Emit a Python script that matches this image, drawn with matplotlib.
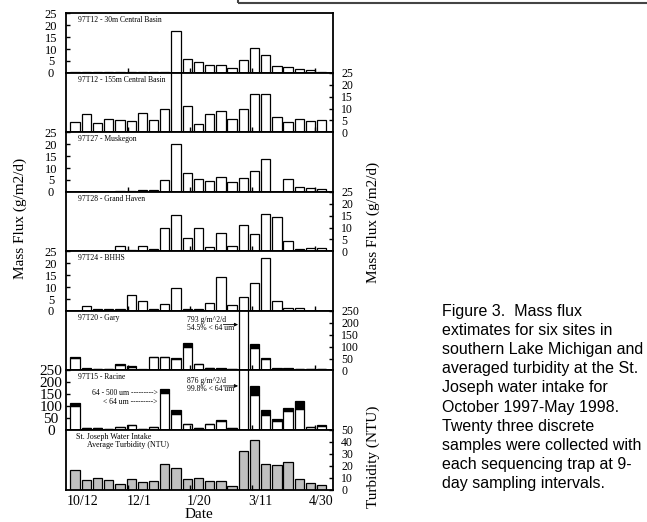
import matplotlib
matplotlib.use("Agg")
import matplotlib.pyplot as plt
from matplotlib.patches import Rectangle
import numpy as np

# ---------------- data (23 nine-day samples, Oct 1997 - May 1998) ----------------
t12_30m = [0.3, 0.5, 0.2, 0.2, 0.2, 0.2, 0.2, 0.2, 0.2, 17.4, 5.8, 4.4, 3.4, 3.2, 1.9,
           5.5, 10.4, 7.4, 3.0, 2.6, 1.4, 1.1, 0.5]
t12_155m = [4.3, 7.9, 4.0, 5.5, 5.1, 4.8, 8.3, 5.1, 9.8, 28.0, 11.2, 3.5, 7.6, 9.1, 5.8,
            9.8, 16.3, 16.0, 6.5, 4.4, 5.8, 4.7, 5.2]
t27_muskegon = [0, 0, 0, 0.1, 0.2, 0.2, 0.8, 0.8, 5.1, 20.0, 7.9, 5.2, 4.4, 6.2, 4.2,
                5.8, 8.6, 13.7, 0, 5.2, 2.0, 1.8, 1.0]
t28_grandhaven = [0, 0, 0, 0.3, 2.1, 0.4, 2.2, 1.1, 9.7, 15.3, 5.6, 9.7, 1.8, 7.6, 2.1,
                  10.9, 7.4, 15.8, 14.4, 4.5, 1.0, 1.5, 1.5]
t24_bhhs = [0, 1.9, 0.6, 0.6, 0.9, 6.7, 4.0, 0.9, 3.1, 9.6, 0.7, 0.6, 3.3, 14.3, 2.6,
            6.0, 11.9, 22.4, 4.3, 1.3, 1.3, 0, 0]
gary_fine = [53, 8, 5, 6, 22, 15, 3, 56, 56, 48, 100, 25, 10, 7, 5, 432, 96, 50, 8, 8, 4, 6, 6]
gary_coarse = [5, 2, 3, 2, 3, 3, 1, 2, 2, 4, 14, 3, 2, 3, 2, 361, 14, 2, 2, 2, 3, 2, 2]
racine_fine = [99, 8, 8, 2, 12, 20, 2, 12, 154, 69, 23, 8, 24, 39, 9, 874, 145, 61, 38, 78, 90, 11, 18]
racine_coarse = [13, 1, 1, 1, 1, 2, 1, 1, 17, 14, 2, 1, 2, 2, 1, 2, 41, 22, 7, 13, 33, 1, 2]
turbidity = [16, 7.6, 9.6, 7.6, 4.5, 8.7, 6.2, 6.8, 21.1, 18.3, 8.5, 9.3, 6.8, 7.3, 2.8,
             32.4, 41.4, 21.1, 20.8, 22.8, 8.7, 5.1, 3.9]

date_labels = ["10/12", "12/1", "1/20", "3/11", "4/30"]
panel_names = ["97T12 - 30m Central Basin", "97T12 - 155m Central Basin", "97T27 - Muskegon",
               "97T28 - Grand Haven", "97T24 - BHHS", "97T20 - Gary", "97T15 - Racine", ""]

caption = ["Figure 3.  Mass flux", "extimates for six sites in", "southern Lake Michigan and",
           "averaged turbidity at the St.", "Joseph water intake for", "October 1997-May 1998.",
           "Twenty three discrete", "samples were collected with", "each sequencing trap at 9-",
           "day sampling intervals."]

# ---------------- layout ----------------
W, H = 647, 522
fig = plt.figure(figsize=(W / 100, H / 100), dpi=100)
SERIF = ["Liberation Serif", "DejaVu Serif"]
SANS = ["Liberation Sans", "DejaVu Sans"]

x = np.arange(len(turbidity))
XL = (-0.856, 23.0)
day_ticks = [4.70, 10.25, 15.78, 21.39]          # 12/1, 1/20, 3/11, 4/30 tick marks
label_pos = [0.71, 5.70, 11.05, 16.49, 21.93]    # where the date labels are printed

top_px, bot_px = 13.3, 489.5
ph = (bot_px - top_px) / 8
left = 65.5 / W
width = (333 - 65.5) / W

panels = []
for k in range(8):
    y0 = top_px + k * ph
    ax = fig.add_axes([left, 1 - (y0 + ph) / H, width, ph / H])
    panels.append(ax)

bw = 0.83
lw_bar = 0.9
ymaxes = [25, 25, 25, 25, 25, 250, 250, 50]
sides = ["left", "right", "left", "right", "left", "right", "left", "right"]
steps = [5, 5, 5, 5, 5, 50, 50, 10]
series = [t12_30m, t12_155m, t27_muskegon, t28_grandhaven, t24_bhhs]

for k, ax in enumerate(panels):
    ax.set_xlim(*XL)
    ax.set_ylim(0, ymaxes[k])
    if k < 5:
        ax.bar(x, series[k], width=bw, color="white", edgecolor="black", linewidth=lw_bar)
    elif k in (5, 6):
        fine = gary_fine if k == 5 else racine_fine
        coarse = gary_coarse if k == 5 else racine_coarse
        ax.bar(x, fine, width=bw, color="white", edgecolor="black", linewidth=lw_bar)
        ax.bar(x, coarse, bottom=fine, width=bw, color="black", edgecolor="black",
               linewidth=lw_bar)
    else:
        ax.bar(x, turbidity, width=bw, color="#c0c0c0", edgecolor="black", linewidth=lw_bar)

    for s in ax.spines.values():
        s.set_linewidth(1.3)

    # x ticks
    ax.set_xticks(day_ticks, minor=True)
    ax.tick_params(axis="x", which="minor", direction="in", length=3.4, width=1.0,
                   bottom=True, top=False)
    if k == 7:
        ax.set_xticks(label_pos)
        ax.set_xticklabels(date_labels, fontsize=10, family=SERIF)
        ax.tick_params(axis="x", which="major", length=0, pad=4)
    else:
        ax.set_xticks([])

    # y ticks
    ticks = np.arange(0, ymaxes[k] + 0.1, steps[k])
    ax.set_yticks(ticks)
    ax.set_yticklabels([f"{int(t)}" for t in ticks], family=SERIF)
    ax.yaxis.set_ticks_position(sides[k])
    if sides[k] == "left":
        fs = 11 if k == 6 else 9
        ax.tick_params(axis="y", direction="in", length=3, width=1.0, labelsize=fs, pad=10.5)
        for lab in ax.get_yticklabels():
            lab.set_horizontalalignment("center")
    else:
        ax.tick_params(axis="y", direction="in", length=3, width=1.0, labelsize=8.5, pad=5.8)

    if panel_names[k]:
        ax.text(0.048, 0.885, panel_names[k], transform=ax.transAxes, fontsize=5.5,
                family=SERIF, va="center", ha="left")

# annotations in Gary and Racine panels
gax, rax, tax = panels[5], panels[6], panels[7]
gax.text(0.455, 0.855, "793 g/m^2/d", transform=gax.transAxes, fontsize=5.5, family=SERIF,
         va="center")
gax.text(0.455, 0.715, "54.5% < 64 um", transform=gax.transAxes, fontsize=5.5, family=SERIF,
         va="center")
gax.annotate("", xy=(0.645, 0.77), xytext=(0.59, 0.77), xycoords="axes fraction",
             arrowprops=dict(arrowstyle="-|>", lw=0.6, color="black", mutation_scale=5,
                             shrinkA=0, shrinkB=0))
rax.text(0.455, 0.82, "876 g/m^2/d", transform=rax.transAxes, fontsize=5.5, family=SERIF,
         va="center")
rax.text(0.455, 0.69, "99.8% < 64 um", transform=rax.transAxes, fontsize=5.5, family=SERIF,
         va="center")
rax.annotate("", xy=(0.645, 0.74), xytext=(0.59, 0.74), xycoords="axes fraction",
             arrowprops=dict(arrowstyle="-|>", lw=0.6, color="black", mutation_scale=5,
                             shrinkA=0, shrinkB=0))
rax.text(0.345, 0.62, "64 - 500 um --------->", transform=rax.transAxes, fontsize=5.5,
         family=SERIF, va="center", ha="right")
rax.text(0.345, 0.47, "< 64 um --------->", transform=rax.transAxes, fontsize=5.5,
         family=SERIF, va="center", ha="right")
tax.text(0.04, 0.885, "St. Joseph Water Intake", transform=tax.transAxes, fontsize=5.8,
         family=SERIF, va="center")
tax.text(0.08, 0.745, "Average Turbidity (NTU)", transform=tax.transAxes, fontsize=5.8,
         family=SERIF, va="center")

# axis titles
fig.text(20 / W, 1 - 218 / H, "Mass Flux (g/m2/d)", rotation=90, fontsize=11, family=SERIF,
         ha="center", va="center")
fig.text(373 / W, 1 - 222 / H, "Mass Flux (g/m2/d)", rotation=90, fontsize=11, family=SERIF,
         ha="center", va="center")
fig.text(373 / W, 1 - 457 / H, "Turbidity (NTU)", rotation=90, fontsize=11, family=SERIF,
         ha="center", va="center")
fig.text(199 / W, 1 - 515 / H, "Date", fontsize=11, family=SERIF, ha="center", va="center")

# caption
for i, line in enumerate(caption):
    fig.text(442 / W, 1 - (311.7 + 19.07 * i) / H, line, fontsize=11.5, family=SANS,
             ha="left", va="center")

# partial box at top
fig.add_artist(Rectangle((238 / W, 1 - 3 / H), 1.0, 0.5, transform=fig.transFigure,
                         fill=False, edgecolor="#444444", linewidth=1.5, clip_on=False))

fig.savefig("out.png", dpi=100)
